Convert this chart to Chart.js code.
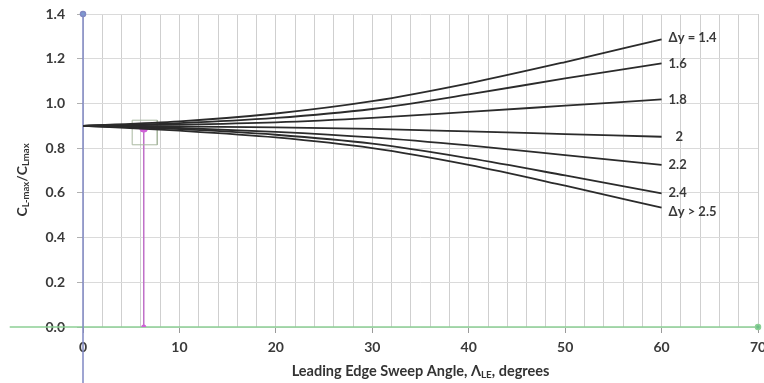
<!DOCTYPE html>
<html>
<head>
<meta charset="utf-8">
<script src="https://cdn.jsdelivr.net/npm/chart.js@4"></script>
<style>
  html, body { margin: 0; padding: 0; background: #fff; }
  #wrap { width: 764px; height: 383px; }
</style>
</head>
<body>
<div id="wrap"><canvas id="sweepChart"></canvas></div>
<script>
// sweep angle stations, degrees
const sweepDeg = [0, 10, 20, 30, 40, 50, 60];

// CLmax ratio for each Δy curve
const dy14 = [0.90, 0.920, 0.955, 1.010, 1.090, 1.185, 1.287];
const dy16 = [0.90, 0.912, 0.935, 0.975, 1.040, 1.112, 1.179];
const dy18 = [0.90, 0.905, 0.915, 0.935, 0.962, 0.990, 1.018];
const dy20 = [0.90, 0.897, 0.893, 0.886, 0.875, 0.863, 0.851];
const dy22 = [0.90, 0.890, 0.873, 0.848, 0.812, 0.769, 0.725];
const dy24 = [0.90, 0.885, 0.860, 0.820, 0.755, 0.678, 0.598];
const dy25 = [0.90, 0.878, 0.848, 0.800, 0.725, 0.632, 0.534];

const curveNames = ['Δy = 1.4', '1.6', '1.8', '2', '2.2', '2.4', 'Δy > 2.5'];
const curveData = [dy14, dy16, dy18, dy20, dy22, dy24, dy25];

// read-off example: sweep 6.3 deg -> ratio 0.89
const pickX = [6.3, 6.3];
const pickY = [0.89, 0.0];
// box around the read-off point
const boxX = [5.1, 7.7, 7.7, 5.1, 5.1];
const boxY = [0.925, 0.925, 0.815, 0.815, 0.925];

// axis lines drawn as series (they run past the plot edges)
const yAxisX = [0, 0];
const yAxisY = [1.4, -0.25];
const xAxisX = [-7.6, 70];
const xAxisY = [0, 0];

const tickFont = { family: 'Lato', size: 14, weight: 'bold' };
const ink = '#3a3a3a';

function pts(xs, ys) {
  return xs.map((x, i) => ({ x: x, y: ys[i] }));
}

const datasets = curveData.map((vals, i) => ({
  label: curveNames[i],
  data: pts(sweepDeg, vals),
  borderColor: '#2b2b2b',
  borderWidth: 1.8,
  pointRadius: 0,
  cubicInterpolationMode: 'monotone',
  showLine: true,
  curveLabel: true,
}));

datasets.push({
  label: 'box',
  data: pts(boxX, boxY),
  borderColor: '#a9b8a0',
  borderWidth: 1,
  pointRadius: 0,
  showLine: true,
});
datasets.push({
  label: 'pick',
  data: pts(pickX, pickY),
  borderColor: '#c070c8',
  backgroundColor: '#d060d8',
  borderWidth: 1.5,
  pointRadius: [4.5, 2.5],
  pointBorderWidth: 0,
  showLine: true,
});
datasets.push({
  label: 'yaxis',
  data: pts(yAxisX, yAxisY),
  borderColor: '#8088c4',
  backgroundColor: '#7d9ad0',
  borderWidth: 1.5,
  pointRadius: [2.5, 0],
  showLine: true,
  clip: false,
});
datasets.push({
  label: 'xaxis',
  data: pts(xAxisX, xAxisY),
  borderColor: '#8ccf94',
  backgroundColor: '#6fc08a',
  borderWidth: 1.5,
  pointRadius: [0, 2.5],
  showLine: true,
  clip: false,
});

// text at the right end of each curve
const curveLabels = {
  id: 'curveLabels',
  afterDatasetsDraw(chart) {
    const ctx = chart.ctx;
    ctx.save();
    ctx.font = 'bold 13px Lato';
    ctx.fillStyle = '#3a3a3a';
    ctx.textBaseline = 'middle';
    chart.data.datasets.forEach((ds, i) => {
      if (!ds.curveLabel) return;
      const meta = chart.getDatasetMeta(i);
      const last = meta.data[meta.data.length - 1];
      let dx = 7, dy = 0;
      if (ds.label === '2') dx = 14;
      if (ds.label === 'Δy > 2.5') dy = 4;
      if (ds.label === 'Δy = 1.4') dy = -1;
      ctx.fillText(ds.label, last.x + dx, last.y + dy);
    });
    ctx.restore();
  }
};

// axis titles with subscripts
function drawSub(ctx, parts, x, y, size) {
  let w = 0;
  parts.forEach(p => {
    ctx.font = 'bold ' + (p.sub ? size * 0.68 : size) + 'px Lato';
    w += ctx.measureText(p.t).width;
  });
  let cx = x - w / 2;
  parts.forEach(p => {
    ctx.font = 'bold ' + (p.sub ? size * 0.68 : size) + 'px Lato';
    ctx.fillText(p.t, cx, y + (p.sub ? size * 0.28 : 0));
    cx += ctx.measureText(p.t).width;
  });
}

const axisTitles = {
  id: 'axisTitles',
  afterDraw(chart) {
    const ctx = chart.ctx;
    const area = chart.chartArea;
    ctx.save();
    ctx.fillStyle = '#333';
    ctx.textBaseline = 'middle';
    drawSub(ctx, [
      { t: 'Leading Edge Sweep Angle, Λ' },
      { t: 'LE', sub: true },
      { t: ', degrees' }
    ], (area.left + area.right) / 2, 371, 14.5);
    ctx.translate(22, 180);
    ctx.rotate(-Math.PI / 2);
    drawSub(ctx, [
      { t: 'C' }, { t: 'L-max', sub: true },
      { t: '/C' }, { t: 'Lmax', sub: true }
    ], 0, 0, 14);
    ctx.restore();
  }
};

const chart = new Chart(document.getElementById('sweepChart'), {
  type: 'scatter',
  data: { datasets: datasets },
  options: {
    responsive: true,
    maintainAspectRatio: false,
    animation: false,
    layout: { padding: { top: 14, right: 6, left: 0, bottom: 0 } },
    plugins: {
      legend: { display: false },
      tooltip: { enabled: false }
    },
    scales: {
      x: {
        type: 'linear',
        min: 0,
        max: 70,
        border: { display: false },
        grid: {
          color: '#cfcfcf',
          lineWidth: 1,
          tickLength: 6,
          tickColor: ctx => (ctx.tick && ctx.tick.value % 10 === 0) ? '#9a9a9a' : 'rgba(0,0,0,0)'
        },
        ticks: {
          stepSize: 2,
          autoSkip: false,
          maxRotation: 0,
          padding: 6,
          color: ink,
          font: tickFont,
          callback: v => (v % 10 === 0 ? v : '')
        },
        afterFit(scale) {
          scale.height = 56;
          scale.paddingRight = 0;
          scale.paddingLeft = 0;
        }
      },
      y: {
        min: 0,
        max: 1.4,
        border: { display: false },
        grid: {
          color: '#dadada',
          lineWidth: 1,
          tickLength: 6,
          tickColor: '#b0b0b0'
        },
        ticks: {
          stepSize: 0.2,
          padding: 12,
          color: ink,
          font: tickFont,
          callback: v => v.toFixed(1)
        },
        afterFit(scale) {
          scale.width = 83;
          scale.paddingTop = 0;
          scale.paddingBottom = 0;
        }
      }
    }
  },
  plugins: [curveLabels, axisTitles]
});
</script>
</body>
</html>
